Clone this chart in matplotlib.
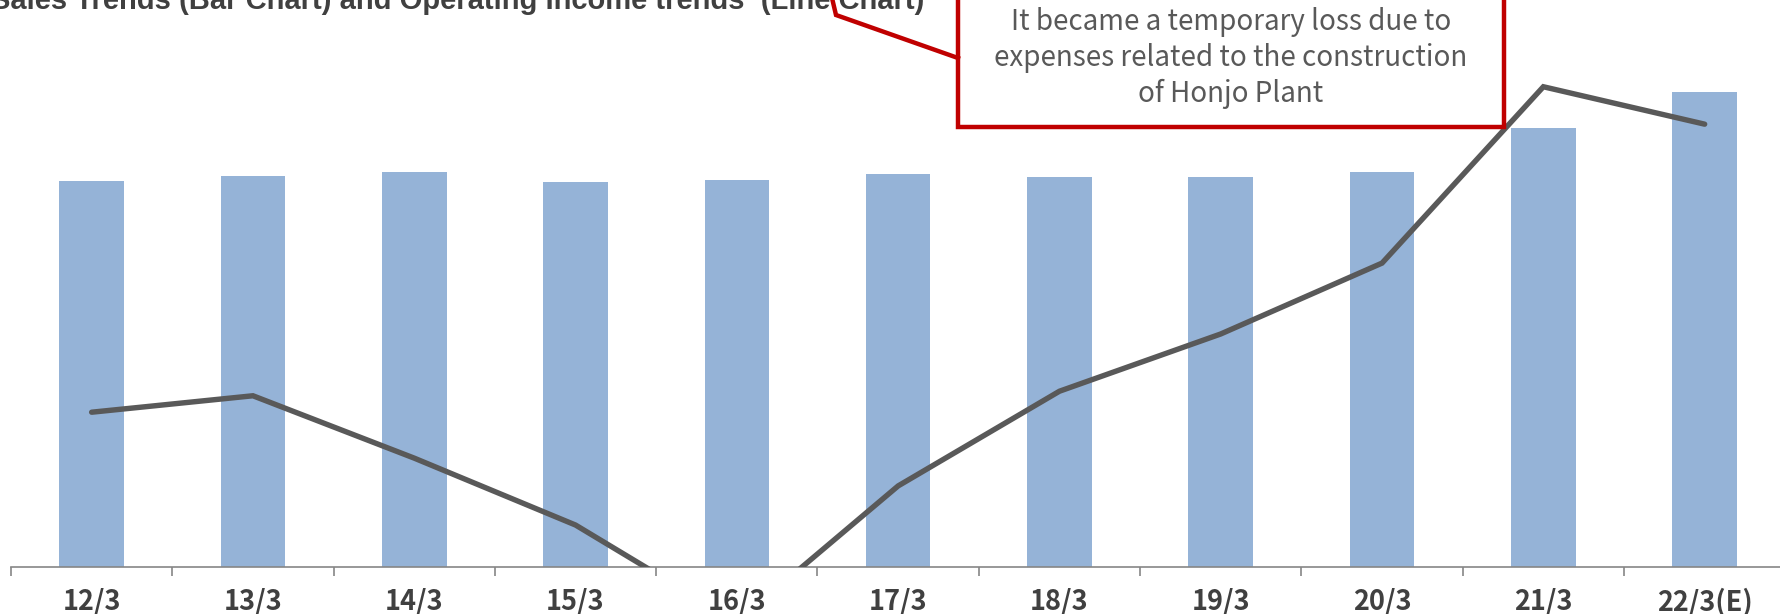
import matplotlib
matplotlib.use("Agg")
import matplotlib.pyplot as plt
from matplotlib.patches import Rectangle
from matplotlib.lines import Line2D
import numpy as np

# fiscal periods (year/month of fiscal year end)
periods = ["12/3", "13/3", "14/3", "15/3", "16/3", "17/3", "18/3", "19/3", "20/3", "21/3", "22/3(E)"]
sales = [10210, 10340, 10450, 10190, 10240, 10400, 10320, 10320, 10450, 11620, 12570]
op_income = [273, 302, 192, 74, -97, 143, 310, 411, 536, 847, 781]

title = "Sales Trends (Bar Chart) and Operating Income trends  (Line Chart)"
note = "It became a temporary loss due to\nexpenses related to the construction\nof Honjo Plant"

W, H = 1781, 614
BAR = "#95B3D7"
LINE = "#595959"
RED = "#C00000"
AXIS = "#868686"
TXT = "#404040"

fig = plt.figure(figsize=(W / 100, H / 100), dpi=100)


def fx(px):
    return px / W


def fy(py):
    return 1 - py / H


# axes: baseline at y=567px, x-range spans 11 categories of ~161.3px from x=11px
cat_w = 161.3
ax = fig.add_axes([fx(11), fy(567), fx(11 * cat_w), 567 / H])
x = np.arange(len(periods))
ax.bar(x, sales, width=0.40, color=BAR, zorder=2)
ax.set_xlim(-0.5, len(periods) - 0.5)
ax.set_ylim(0, 15000)
for s in ("top", "left", "right"):
    ax.spines[s].set_visible(False)
ax.spines["bottom"].set_color(AXIS)
ax.spines["bottom"].set_linewidth(1.2)
ax.set_yticks([])
ax.set_xticks(x)
ax.set_xticklabels(periods, family=["Noto Sans CJK JP", "DejaVu Sans"],
                   fontweight="bold", fontsize=19.5, color=TXT)
ax.tick_params(axis="x", which="major", length=0, pad=15)
ax.set_xticks(np.arange(-0.5, len(periods)), minor=True)
ax.tick_params(axis="x", which="minor", length=6.5, width=1.2, color=AXIS)

# operating income on its own scale, clipped at the baseline
ax2 = ax.twinx()
ax2.plot(x, op_income, color=LINE, lw=3.9, solid_capstyle="round",
         solid_joinstyle="miter", zorder=3)
ax2.set_ylim(0, 1000)
ax2.axis("off")

fig.text(fx(-9), fy(9), title, ha="left", va="baseline", fontsize=21,
         fontweight="bold", color=TXT, family="Liberation Sans")

# callout for the 16/3 loss
fig.add_artist(Line2D([fx(832), fx(836), fx(958)], [fy(-2), fy(15), fy(58)],
                      color=RED, lw=3.2, solid_joinstyle="miter"))
fig.add_artist(Rectangle((fx(958), fy(127)), fx(1504 - 958), 147 / H,
                         facecolor="white", edgecolor=RED, lw=3.2,
                         transform=fig.transFigure))
fig.text(fx(1231), fy(58), note, ha="center", va="center", fontsize=20,
         color=LINE, family=["Noto Sans CJK JP", "DejaVu Sans"],
         linespacing=1.24, multialignment="center")

fig.savefig("out.png", dpi=100)
